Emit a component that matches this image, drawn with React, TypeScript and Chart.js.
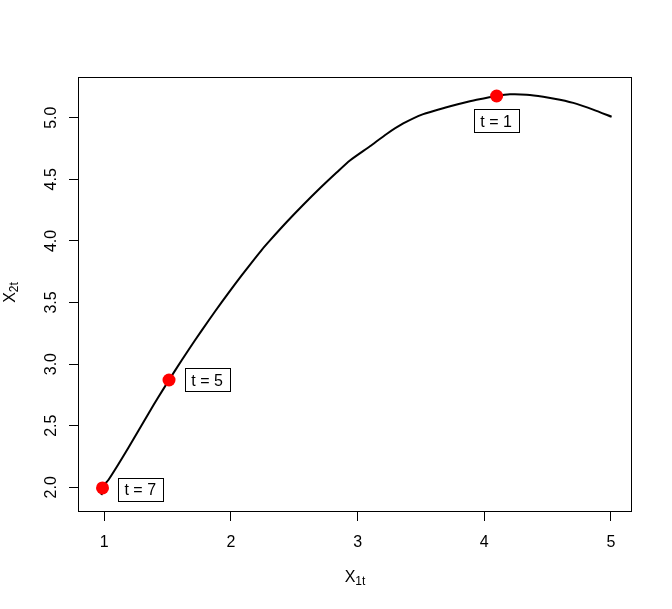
import React, { useEffect, useRef } from "react";
import { Chart, registerables } from "chart.js";
Chart.register(...registerables);

// Trajectory (X1t, X2t)
const curveX = [0.979, 0.984, 1.032, 1.110, 1.189, 1.268, 1.347, 1.426, 1.511, 1.611, 1.716, 1.821, 1.927, 2.032, 2.137, 2.242, 2.308, 2.440, 2.571, 2.702, 2.834, 2.939, 3.097, 3.229, 3.360, 3.518, 3.702, 3.807, 3.886, 3.939, 4.097, 4.202, 4.334, 4.465, 4.597, 4.729, 4.859, 5.005];
const curveY = [1.937, 2.000, 2.059, 2.185, 2.319, 2.457, 2.595, 2.731, 2.871, 3.031, 3.194, 3.350, 3.503, 3.649, 3.790, 3.926, 4.004, 4.153, 4.293, 4.427, 4.555, 4.653, 4.768, 4.868, 4.953, 5.029, 5.085, 5.113, 5.133, 5.145, 5.176, 5.190, 5.187, 5.170, 5.145, 5.112, 5.066, 5.008];

// Highlighted time points
const markerX = [4.097, 1.511, 0.986];
const markerY = [5.176, 2.871, 1.995];

// Annotation labels
const labelTexts = ["t = 1", "t = 5", "t = 7"];
const labelX = [4.093, 1.812, 1.284];
const labelY = [4.977, 2.871, 1.986];

// Axes
const xTicks = [1, 2, 3, 4, 5];
const xTickLabels = ["1", "2", "3", "4", "5"];
const yTicks = [2.0, 2.5, 3.0, 3.5, 4.0, 4.5, 5.0];
const yTickLabels = ["2.0", "2.5", "3.0", "3.5", "4.0", "4.5", "5.0"];
const xMin = 0.7924, xMax = 5.1658;
const yMin = 1.7995, yMax = 5.3304;
const xTitle = ["X", "1t"];
const yTitle = ["X", "2t"];

const FONT = '"Liberation Sans", Arial, Helvetica, sans-serif';

const decorPlugin = {
  id: "rdecor",
  afterDraw(chart: any) {
    const { ctx, chartArea: a, scales } = chart;
    const xs = scales.x, ys = scales.y;
    ctx.save();
    // box
    ctx.strokeStyle = "#000";
    ctx.lineWidth = 1;
    ctx.strokeRect(a.left + 0.5, a.top + 0.5, a.right - a.left - 1, a.bottom - a.top - 1);

    ctx.fillStyle = "#000";
    ctx.font = `16px ${FONT}`;
    ctx.textAlign = "center";
    ctx.textBaseline = "alphabetic";
    // x tick labels
    xTicks.forEach((v, i) => {
      ctx.fillText(xTickLabels[i], xs.getPixelForValue(v), 547);
    });
    // y tick labels (rotated)
    yTicks.forEach((v, i) => {
      ctx.save();
      ctx.translate(56, ys.getPixelForValue(v));
      ctx.rotate(-Math.PI / 2);
      ctx.fillText(yTickLabels[i], 0, 0);
      ctx.restore();
    });

    // x title with subscript
    ctx.textAlign = "left";
    ctx.font = `16px ${FONT}`;
    const w1 = ctx.measureText(xTitle[0]).width;
    ctx.font = `12px ${FONT}`;
    const w2 = ctx.measureText(xTitle[1]).width;
    const cx = (a.left + a.right) / 2;
    const sx = cx - (w1 + w2) / 2;
    ctx.font = `16px ${FONT}`;
    ctx.fillText(xTitle[0], sx, 582);
    ctx.font = `12px ${FONT}`;
    ctx.fillText(xTitle[1], sx + w1, 585);

    // y title with subscript (rotated)
    ctx.font = `16px ${FONT}`;
    const v1 = ctx.measureText(yTitle[0]).width;
    ctx.font = `12px ${FONT}`;
    const v2 = ctx.measureText(yTitle[1]).width;
    const cy = (a.top + a.bottom) / 2 - 2;
    ctx.save();
    ctx.translate(15, cy);
    ctx.rotate(-Math.PI / 2);
    const sy = -(v1 + v2) / 2;
    ctx.font = `16px ${FONT}`;
    ctx.fillText(yTitle[0], sy, 0);
    ctx.font = `12px ${FONT}`;
    ctx.fillText(yTitle[1], sy + v1, 3);
    ctx.restore();

    // annotation boxes
    ctx.font = `16px ${FONT}`;
    ctx.textAlign = "center";
    labelTexts.forEach((t, i) => {
      const px = xs.getPixelForValue(labelX[i]);
      const py = ys.getPixelForValue(labelY[i]);
      const tw = ctx.measureText(t).width;
      const bw = Math.round(tw + 13);
      const bh = 23;
      const bx = Math.round(px - bw / 2);
      const by = Math.round(py - bh / 2);
      ctx.fillStyle = "#fff";
      ctx.fillRect(bx, by, bw, bh);
      ctx.strokeStyle = "#000";
      ctx.lineWidth = 1;
      ctx.strokeRect(bx + 0.5, by + 0.5, bw, bh);
      ctx.fillStyle = "#000";
      ctx.fillText(t, px, py + 6);
    });
    ctx.restore();
  },
};

export default function App() {
  const ref = useRef<HTMLCanvasElement | null>(null);
  useEffect(() => {
    if (!ref.current) return;
    Chart.defaults.font.family = FONT;
    const chart = new Chart(ref.current, {
      type: "scatter",
      data: {
        datasets: [
          {
            data: markerX.map((x, i) => ({ x, y: markerY[i] })),
            backgroundColor: "#ff0000",
            borderWidth: 0,
            pointRadius: 6.5,
            showLine: false,
            order: 0,
          },
          {
            data: curveX.map((x, i) => ({ x, y: curveY[i] })),
            borderColor: "#000",
            borderWidth: 2,
            pointRadius: 0,
            showLine: true,
            tension: 0.2,
            order: 1,
          },
        ],
      },
      options: {
        responsive: false,
        animation: false,
        events: [],
        layout: { padding: { top: 77, right: 40, left: 0, bottom: 0 } },
        plugins: { legend: { display: false }, tooltip: { enabled: false } },
        scales: {
          x: {
            type: "linear",
            min: xMin,
            max: xMax,
            afterBuildTicks: (s: any) => {
              s.ticks = xTicks.map((v) => ({ value: v }));
            },
            afterFit: (s: any) => {
              s.height = 97;
            },
            ticks: { display: false },
            grid: { drawOnChartArea: false, drawTicks: true, tickLength: 9, color: "#000", lineWidth: 1 },
            border: { display: false },
          },
          y: {
            type: "linear",
            min: yMin,
            max: yMax,
            afterBuildTicks: (s: any) => {
              s.ticks = yTicks.map((v) => ({ value: v }));
            },
            afterFit: (s: any) => {
              s.width = 78;
            },
            ticks: { display: false },
            grid: { drawOnChartArea: false, drawTicks: true, tickLength: 9, color: "#000", lineWidth: 1 },
            border: { display: false },
          },
        },
      },
      plugins: [decorPlugin],
    } as any);
    return () => chart.destroy();
  }, []);
  return (
    <div style={{ position: "absolute", left: 0, top: 0, width: 672, height: 609, background: "#fff" }}>
      <canvas ref={ref} width={672} height={609} />
    </div>
  );
}
